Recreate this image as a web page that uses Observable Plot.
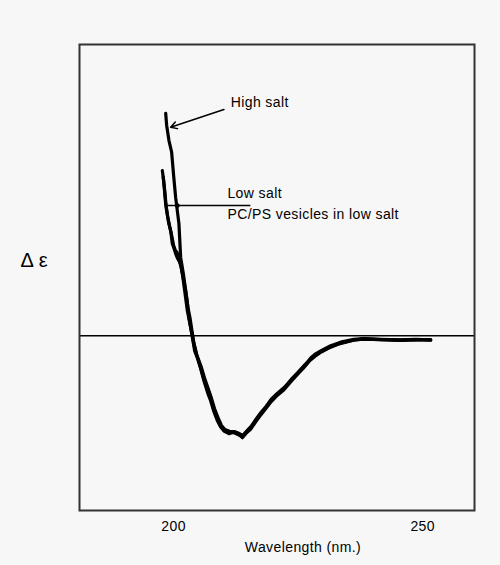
<!DOCTYPE html>
<html>
<head>
<meta charset="utf-8">
<script src="https://cdn.jsdelivr.net/npm/d3@7"></script>
<script src="https://cdn.jsdelivr.net/npm/@observablehq/plot@0.6"></script>
<style>
  html, body { margin: 0; padding: 0; background: #f7f7f7; }
  #chart svg { display: block; background: #f7f7f7; }
  #chart svg text { letter-spacing: 0.4px; }
  #chart svg .ylab text { letter-spacing: 5px; }
</style>
</head>
<body>
<div id="chart"></div>
<script>
// Wavelength (nm) and Δε (arbitrary units)
const highSaltX = [198.4,198.6,199.06,199.6,200.0,200.4,201.06,201.41,201.95,202.61,203.07,203.76,204.22,204.82,205.42,206.08,206.83,207.43,208.03,208.78,209.44,210.1,211.04,212.11,213.05,213.8,214.66,215.46,216.47,217.47,218.47,219.48,220.68,222.15,223.49,224.84,226.1,227.51,228.51,229.52,231.53,233.53,236.2,238.15,241.57,245.58,248.59,251.61];
const highSaltY = [7.64,7.22,6.7,6.3,5.5,4.75,3.85,2.69,2.13,1.32,0.63,-0.06,-0.52,-0.79,-1.13,-1.55,-1.96,-2.23,-2.58,-2.92,-3.13,-3.26,-3.3,-3.33,-3.4,-3.47,-3.3,-3.15,-2.92,-2.68,-2.47,-2.23,-2.03,-1.82,-1.55,-1.31,-1.07,-0.76,-0.62,-0.52,-0.34,-0.22,-0.12,-0.1,-0.12,-0.14,-0.12,-0.14];

const lowSaltX = [197.73,197.99,198.39,198.59,199.0,199.4,199.74,200.1,200.4,200.8,201.41,201.81,202.21,202.75,203.15,203.55,204.02,204.62,205.5,206.2,207.0,207.6,208.2,209.0,209.6,210.3,211.2,212.3,213.2,213.9,214.8,215.6,216.6,217.6,218.6,219.6,220.8,222.3,223.6,225.0,226.2,227.6,228.6,229.6,231.6,233.6,236.3,238.2,241.6,245.6,248.6,251.6];
const lowSaltY = [5.67,5.33,4.54,4.3,3.88,3.61,3.16,2.99,2.82,2.65,2.47,2.06,1.55,0.86,0.52,0.17,-0.24,-0.65,-1.05,-1.45,-1.85,-2.15,-2.5,-2.85,-3.08,-3.22,-3.28,-3.3,-3.36,-3.42,-3.25,-3.1,-2.85,-2.62,-2.42,-2.18,-1.98,-1.76,-1.5,-1.25,-1.02,-0.8,-0.66,-0.55,-0.37,-0.25,-0.14,-0.12,-0.13,-0.15,-0.13,-0.15];

const pcpsX = [197.9,198.2,198.5,198.8,199.2,199.6,200.0,200.3,200.7,201.1,201.5,201.9,202.4,202.9,203.3,203.7,204.1,204.7,205.4,206.1,206.9,207.5,208.1,208.9,209.5,210.2,211.1,212.2,213.1,213.8,214.7,215.5,216.5,217.4,218.4,219.4,220.6,222.1,223.4,224.8,226.0,227.4,228.4,229.4,231.4,233.4,236.1,238.1,241.5,245.5,248.5,251.6];
const pcpsY = [5.45,5.0,4.45,4.1,3.75,3.45,3.1,2.95,2.85,2.6,2.35,2.0,1.55,0.95,0.6,0.15,-0.28,-0.7,-1.08,-1.5,-1.92,-2.2,-2.55,-2.9,-3.12,-3.28,-3.36,-3.3,-3.38,-3.5,-3.32,-3.2,-2.95,-2.74,-2.52,-2.3,-2.08,-1.86,-1.6,-1.34,-1.12,-0.84,-0.7,-0.58,-0.4,-0.27,-0.15,-0.11,-0.13,-0.16,-0.14,-0.13];

const seriesNames = ["High salt", "Low salt", "PC/PS vesicles in low salt"];
const xTicks = [200, 250];
const xLabel = "Wavelength (nm.)";
const yLabel = "Δε";

const toRows = (name, xs, ys) => xs.map((x, i) => ({series: name, x, y: ys[i]}));
const rows = [
  ...toRows(seriesNames[0], highSaltX, highSaltY),
  ...toRows(seriesNames[1], lowSaltX, lowSaltY),
  ...toRows(seriesNames[2], pcpsX, pcpsY)
];

const font = "'Liberation Sans', Arial, sans-serif";

const chart = Plot.plot({
  width: 500,
  height: 565,
  marginLeft: 79,
  marginRight: 26,
  marginTop: 44,
  marginBottom: 55,
  style: {background: "#f7f7f7", fontFamily: font, color: "#000"},
  x: {domain: [181.1, 260.4]},
  y: {domain: [-6, 10], axis: null},
  marks: [
    Plot.ruleY([0], {stroke: "#000", strokeWidth: 1.3}),
    Plot.line(rows, {x: "x", y: "y", z: "series", stroke: "#000", strokeWidth: 3.2, curve: "linear"}),
    // annotation for High salt
    Plot.arrow([seriesNames[0]], {x1: () => 210.1, y1: () => 7.77, x2: () => 199.4, y2: () => 7.16, stroke: "#000", strokeWidth: 1.5, headLength: 7}),
    Plot.text([seriesNames[0]], {text: d => d, x: () => 211.45, y: () => 8.02, textAnchor: "start", fontSize: 14, fill: "#000"}),
    // shared leader line for Low salt / PC/PS
    Plot.ruleY([seriesNames[1]], {y: () => 4.47, x1: () => 198.4, x2: () => 215.5, stroke: "#000", strokeWidth: 1.4}),
    Plot.dot([seriesNames[1]], {x: () => 200.74, y: () => 4.47, r: 2.4, fill: "#000", stroke: "none"}),
    Plot.text([seriesNames[1]], {text: d => d, x: () => 210.8, y: () => 4.9, textAnchor: "start", fontSize: 14, fill: "#000"}),
    Plot.text([seriesNames[2]], {text: d => d, x: () => 210.8, y: () => 4.16, textAnchor: "start", fontSize: 14, fill: "#000"}),
    Plot.frame({stroke: "#333", strokeWidth: 2}),
    Plot.axisX(xTicks, {tickSize: 0, tickPadding: 11, fontSize: 14, tickFormat: d => String(d), label: null}),
    Plot.text([xLabel], {text: d => d, frameAnchor: "bottom", dx: 26, dy: 41, fontSize: 14, fill: "#000"}),
    Plot.text([yLabel], {text: d => d, frameAnchor: "left", dx: -59, dy: -17, textAnchor: "start", fontSize: 20, fill: "#000", className: "ylab"})
  ]
});

document.getElementById("chart").appendChild(chart);
</script>
</body>
</html>
